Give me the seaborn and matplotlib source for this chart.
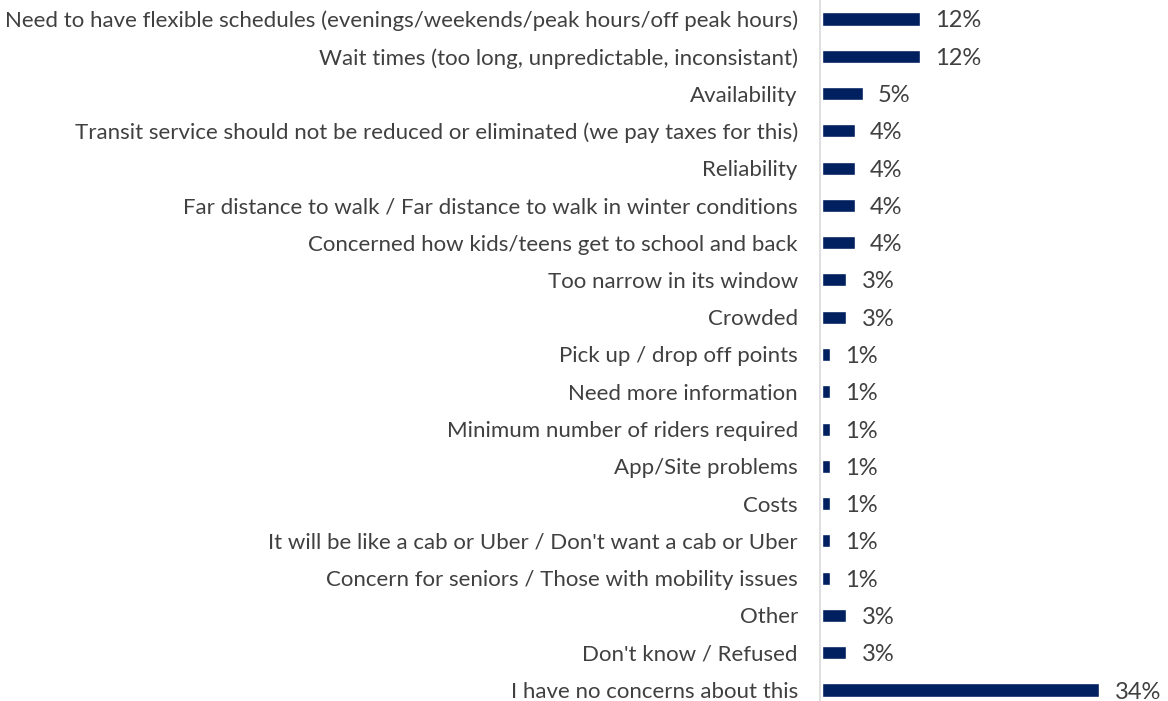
import matplotlib
matplotlib.use("Agg")
import matplotlib.pyplot as plt
import seaborn as sns
import pandas as pd

categories = [
    "Need to have flexible schedules (evenings/weekends/peak hours/off peak hours)",
    "Wait times (too long, unpredictable, inconsistant)",
    "Availability",
    "Transit service should not be reduced or eliminated (we pay taxes for this)",
    "Reliability",
    "Far distance to walk / Far distance to walk in winter conditions",
    "Concerned how kids/teens get to school and back",
    "Too narrow in its window",
    "Crowded",
    "Pick up / drop off points",
    "Need more information",
    "Minimum number of riders required",
    "App/Site problems",
    "Costs",
    "It will be like a cab or Uber / Don't want a cab or Uber",
    "Concern for seniors / Those with mobility issues",
    "Other",
    "Don't know / Refused",
    "I have no concerns about this",
]
values = [12, 12, 5, 4, 4, 4, 4, 3, 3, 1, 1, 1, 1, 1, 1, 1, 3, 3, 34]

df = pd.DataFrame({"concern": categories, "pct": values})

sns.set_theme(style="white")
plt.rcParams["font.family"] = ["Lato", "DejaVu Sans"]

fig = plt.figure(figsize=(11.68, 7.01), dpi=100)
ax = fig.add_axes([820 / 1168, 0, 1 - 820 / 1168, 1])

sns.barplot(data=df, y="concern", x="pct", orient="h", color="#002060",
            width=0.35, saturation=1, ax=ax)

ax.set_xlim(-0.25, (1168 - 820) / 8.2)
ax.set_ylim(18 + 11 / 37.3, -19 / 37.3)
ax.set_xlabel("")
ax.set_ylabel("")
ax.set_xticks([])
ax.tick_params(axis="y", length=0, pad=16, labelsize=16, labelcolor="#404040")

for side in ["top", "right", "bottom"]:
    ax.spines[side].set_visible(False)
ax.spines["left"].set_color("#d9d9d9")
ax.spines["left"].set_linewidth(1.2)

value_texts = ax.bar_label(ax.containers[0], labels=[f"{v}%" for v in values],
                           padding=11, fontsize=17, color="#404040")
for t in value_texts:
    t.set_va("center_baseline")

fig.savefig("out.png", dpi=100)
